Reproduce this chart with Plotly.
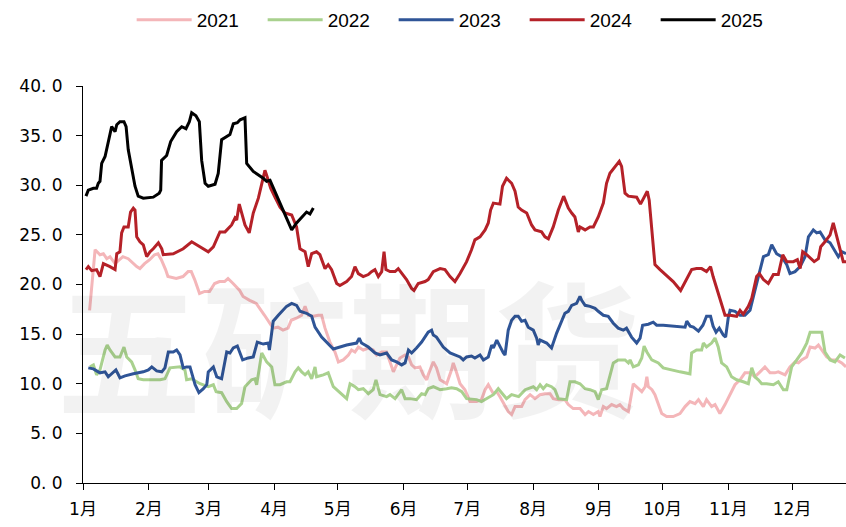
import plotly.graph_objects as go

# ---------------- data (x = day of year, 0 = 1 Jan) ----------------
month_ticks = [0, 31, 59, 90, 120, 151, 181, 212, 243, 273, 304, 334]
month_labels = ["1月", "2月", "3月", "4月", "5月", "6月", "7月", "8月", "9月", "10月", "11月", "12月"]
y_ticks = [0, 5, 10, 15, 20, 25, 30, 35, 40]
y_labels = ["0. 0", "5. 0", "10. 0", "15. 0", "20. 0", "25. 0", "30. 0", "35. 0", "40. 0"]

x2021 = [3.1, 5.7, 8.0, 9.6, 11.2, 12.7, 15.1, 17.4, 18.8, 21.3, 23.7, 25.3, 26.8, 29.0, 31.4, 33.7, 35.3, 36.9, 38.9, 40.0,
         43.9, 47.1, 49.5, 51.0, 52.6, 54.9, 57.3, 59.6, 62.0, 64.3, 66.7, 68.3, 70.7, 73.8, 75.4, 78.5, 81.6, 84.0, 85.5, 89.5,
         91.8, 94.2, 96.6, 98.1, 100.5, 103.0, 104.6, 106.1, 108.5, 110.8, 112.4, 114.0, 116.3, 118.7, 120.3, 122.6, 125.0, 126.5,
         128.1, 129.7, 132.0, 134.4, 136.7, 138.3, 140.7, 143.0, 144.6, 146.2, 147.7, 149.3, 151.7, 153.3, 154.8, 156.4, 158.7,
         160.3, 161.9, 162.6, 165.0, 166.5, 168.2, 169.7, 171.3, 173.6, 174.4, 176.0, 177.6, 179.9, 182.3, 185.4, 187.7, 189.4,
         190.9, 193.3, 194.9, 196.4, 198.0, 200.3, 201.9, 203.5, 205.0, 206.6, 208.2, 210.6, 212.9, 215.3, 217.6, 220.0, 221.5,
         223.9, 227.0, 228.6, 230.9, 234.1, 236.5, 238.1, 240.4, 242.7, 243.5, 245.1, 246.6, 249.0, 251.3, 252.9, 254.5, 256.9,
         259.2, 261.6, 263.2, 264.8, 265.6, 266.3, 268.0, 269.4, 271.0, 272.6, 274.9, 278.0, 281.2, 283.6, 285.9, 288.3, 289.9,
         292.2, 293.7, 296.1, 297.7, 300.0, 302.4, 304.8, 307.1, 309.5, 311.8, 314.2, 316.5, 318.9, 321.2, 323.6, 325.9, 327.5,
         330.7, 333.0, 335.4, 337.0, 338.5, 340.9, 342.5, 344.8, 346.4, 348.0, 350.3, 352.7, 355.0, 357.4, 359.4]
y2021 = [17.4, 23.5, 23.0, 23.1, 22.6, 22.8, 22.1, 22.5, 22.8, 22.6, 22.1, 21.8, 21.6, 22.1, 22.5, 23.0, 23.1, 22.5, 21.5, 20.8,
         20.6, 20.8, 21.3, 21.3, 20.5, 19.1, 19.3, 19.3, 20.1, 20.3, 20.3, 20.6, 20.1, 19.4, 18.8, 18.4, 18.1, 17.4, 16.9, 15.6,
         15.7, 15.4, 15.6, 16.4, 16.6, 16.9, 17.8, 16.9, 16.8, 16.9, 16.9, 15.6, 14.2, 13.2, 12.2, 12.4, 12.9, 13.4,
         13.2, 13.7, 13.4, 13.6, 13.4, 12.9, 13.2, 13.2, 12.2, 11.2, 11.9, 12.6, 12.9, 12.7, 11.9, 11.6, 11.7,
         10.9, 10.4, 10.9, 12.2, 11.6, 10.4, 10.2, 10.0, 11.4, 12.1, 11.1, 10.0, 9.4, 8.2, 8.2, 8.4, 9.4,
         9.9, 9.0, 9.2, 8.7, 8.1, 7.2, 6.9, 7.7, 7.7, 7.7, 8.4, 8.9, 8.5, 8.9, 9.0, 9.0, 8.5,
         8.4, 8.4, 7.9, 7.5, 7.5, 6.9, 7.2, 6.9, 7.2, 6.7, 7.7, 7.5, 7.9, 7.7, 7.9, 7.5, 7.2,
         10.0, 9.5, 9.2, 9.7, 10.7, 9.7, 9.4, 8.9, 7.9, 7.0, 6.7, 6.7, 7.0, 7.7, 8.2, 8.0, 8.4,
         7.7, 8.4, 7.7, 7.9, 7.0, 7.9, 9.0, 9.9, 10.4, 11.1, 11.1, 10.7, 11.2, 11.7, 11.1, 11.1, 11.2,
         10.9, 11.7, 12.2, 12.1, 12.4, 12.7, 13.7, 13.6, 13.9, 13.4, 12.7, 12.4, 12.4, 12.1, 11.7]

x2022 = [3.3, 4.9, 6.4, 8.0, 10.4, 11.4, 12.7, 15.1, 17.4, 19.3, 20.6, 22.9, 24.5, 26.0, 28.4, 36.3, 38.6, 41.0, 45.7, 48.0,
         48.8, 51.2, 55.1, 59.0, 61.4, 62.7, 65.3, 67.7, 70.0, 72.4, 74.7, 76.3, 79.4, 81.0, 81.8, 84.2, 86.5, 88.9, 90.4, 92.8,
         95.9, 97.5, 99.9, 101.4, 103.0, 104.6, 106.1, 107.7, 109.3, 110.0, 113.2, 115.5, 117.9, 121.8, 124.2, 125.8, 128.1,
         129.7, 132.0, 134.4, 136.7, 138.0, 139.9, 143.0, 144.6, 147.0, 148.5, 150.1, 151.7, 154.0, 157.1, 159.5, 161.1, 162.6,
         165.0, 168.2, 171.3, 173.6, 176.0, 178.4, 180.7, 185.4, 187.7, 190.1, 193.3, 195.6, 198.0, 199.5, 201.9, 205.2, 208.3,
         212.1, 213.7, 215.3, 216.8, 218.4, 220.7, 222.3, 223.9, 227.8, 229.4, 231.7, 234.1, 236.5, 238.8, 241.2, 242.7, 244.3,
         246.6, 248.2, 249.8, 252.1, 255.3, 256.9, 257.7, 259.2, 261.6, 263.2, 264.3, 265.6, 267.9, 271.0, 273.3, 281.2, 285.9,
         286.7, 289.0, 291.4, 292.2, 293.7, 296.1, 297.7, 299.2, 300.8, 303.2, 305.5, 307.9, 311.0, 313.4, 315.0, 316.5, 318.1,
         319.7, 322.0, 325.2, 327.5, 329.9, 331.5, 333.8, 336.2, 338.5, 340.9, 342.5, 345.6, 348.0, 349.5, 351.9, 354.2, 356.6, 358.9]
y2022 = [11.7, 11.9, 10.9, 11.4, 13.4, 13.9, 13.4, 12.7, 12.7, 13.7, 12.7, 12.2, 11.4, 10.5, 10.4, 10.4, 10.5, 11.6, 11.7, 11.4,
         10.4, 10.5, 10.0, 9.7, 9.9, 9.2, 9.1, 8.2, 7.5, 7.5, 8.0, 9.7, 10.4, 10.5, 9.9, 13.1, 12.2, 11.7, 9.9, 9.9,
         10.2, 10.2, 11.2, 11.6, 11.2, 10.9, 11.2, 10.5, 11.7, 10.7, 10.9, 11.1, 9.7, 9.0, 8.5, 10.0, 9.7,
         9.4, 9.5, 9.0, 9.4, 10.4, 8.9, 8.7, 8.9, 8.5, 9.0, 9.4, 8.5, 8.5, 8.4, 9.0, 8.9, 9.5,
         9.7, 9.4, 9.5, 9.6, 9.5, 9.2, 8.5, 8.4, 8.2, 8.5, 8.9, 9.5, 8.9, 8.5, 8.9, 8.7, 9.4,
         9.7, 9.4, 9.9, 9.5, 9.9, 9.7, 9.4, 8.5, 8.4, 10.2, 10.2, 10.0, 9.5, 9.4, 9.2, 8.4, 9.4,
         9.5, 10.9, 12.1, 12.4, 12.4, 12.1, 12.4, 11.7, 11.9, 12.6, 13.8, 13.2, 12.4, 12.1, 11.6, 11.2, 11.0,
         13.1, 13.4, 13.4, 14.1, 13.7, 14.1, 14.6, 13.7, 12.1, 11.7, 10.7, 10.4, 10.2, 10.0, 11.6, 10.7, 10.4,
         10.0, 10.0, 9.9, 10.2, 9.4, 9.4, 11.7, 12.4, 13.1, 14.1, 15.2, 15.2, 15.2, 13.2, 12.4, 12.2, 12.9, 12.6]

x2023 = [2.5, 4.9, 8.0, 10.4, 11.9, 14.3, 15.5, 17.4, 19.8, 23.7, 28.4, 30.8, 32.4, 34.7, 37.1, 38.6, 40.2, 42.5, 44.1, 45.7,
         47.2, 48.8, 50.4, 52.8, 54.6, 56.7, 58.3, 59.0, 61.4, 63.0, 65.3, 67.7, 69.2, 70.8, 72.7, 75.2, 77.8, 80.2, 82.1, 84.9,
         87.3, 87.8, 89.6, 92.0, 95.9, 98.3, 100.6, 102.2, 105.3, 107.7, 109.3, 112.4, 114.7, 117.9, 124.2, 128.9, 130.1, 131.2,
         134.4, 137.5, 139.9, 143.0, 145.4, 147.7, 150.1, 151.7, 153.3, 154.8, 157.1, 159.5, 162.6, 164.2, 165.0, 166.5, 169.7,
         172.9, 177.6, 179.1, 180.7, 183.0, 184.6, 187.0, 188.6, 190.9, 192.5, 193.3, 194.9, 196.4, 198.0, 198.8, 200.3, 201.9,
         203.5, 205.0, 206.6, 208.2, 209.7, 212.1, 213.7, 214.4, 215.3, 218.4, 220.7, 223.1, 225.4, 227.0, 228.6, 230.2, 232.5,
         234.1, 234.9, 236.5, 238.8, 241.2, 242.7, 245.1, 247.4, 249.8, 252.1, 254.5, 256.0, 258.4, 260.8, 262.4, 263.6, 266.3,
         268.6, 270.2, 273.3, 281.2, 283.6, 284.4, 286.0, 287.5, 289.9, 292.0, 293.7, 295.6, 296.8, 298.2, 299.7, 301.6, 302.7,
         303.9, 304.8, 307.1, 309.5, 311.8, 314.2, 316.5, 318.9, 320.5, 322.8, 324.4, 326.7, 329.1, 331.5, 333.0, 335.4, 337.8,
         340.1, 341.7, 344.0, 345.6, 347.2, 349.5, 351.9, 354.2, 355.8, 357.4, 359.4]
y2023 = [11.6, 11.5, 11.1, 11.2, 10.7, 11.2, 11.4, 10.6, 10.8, 11.0, 11.2, 11.4, 11.7, 11.3, 11.2, 11.6, 13.2, 13.2, 13.4, 12.9,
         11.6, 11.7, 11.7, 9.9, 9.1, 9.5, 9.9, 11.2, 11.7, 10.7, 10.5, 13.2, 13.1, 13.6, 13.8, 12.4, 12.6, 12.7, 14.2, 14.0,
         14.1, 13.4, 16.3, 16.9, 17.8, 18.1, 17.9, 17.3, 17.1, 16.8, 15.7, 14.7, 14.2, 13.5, 13.9, 14.1, 14.6, 14.1,
         13.7, 13.1, 12.9, 13.1, 12.4, 12.2, 11.9, 12.1, 13.4, 13.1, 13.6, 14.2, 15.2, 15.4, 14.9, 14.7, 13.7,
         13.1, 12.7, 12.4, 12.7, 12.8, 12.6, 12.9, 12.4, 12.7, 13.9, 13.6, 14.4, 13.7, 13.1, 12.9, 15.4, 16.4,
         16.8, 16.8, 16.3, 16.4, 15.7, 15.4, 14.6, 13.9, 14.4, 14.1, 13.6, 15.1, 16.4, 17.1, 17.3, 17.9, 18.1,
         18.8, 18.4, 17.9, 17.8, 17.6, 17.3, 16.9, 16.8, 16.1, 15.6, 15.4, 15.6, 14.7, 14.1, 14.6, 15.9, 16.0,
         16.2, 15.9, 15.9, 15.7, 15.7, 16.3, 15.8, 15.7, 15.3, 15.9, 16.8, 16.8, 15.8, 15.2, 15.6, 14.9, 14.7,
         16.6, 17.4, 17.3, 16.9, 16.9, 17.4, 19.4, 21.5, 22.8, 23.0, 24.0, 23.1, 22.8, 22.0, 21.1, 21.3, 21.8,
         22.8, 24.8, 25.5, 25.2, 25.3, 24.5, 24.2, 23.3, 22.8, 23.3, 23.1]

x2024 = [1.4, 2.5, 4.1, 6.4, 8.0, 9.6, 12.7, 15.1, 15.9, 17.4, 18.2, 19.3, 21.3, 22.4, 23.7, 24.5, 25.3, 26.8, 28.4, 30.0,
         31.6, 33.1, 35.5, 37.1, 37.8, 42.5, 47.2, 51.2, 53.5, 56.7, 59.0, 61.4, 64.5, 66.9, 70.0, 71.6, 72.4, 73.6, 74.7, 76.3,
         78.3, 80.2, 82.6, 84.2, 85.7, 86.5, 88.4, 90.4, 92.8, 95.1, 98.3, 100.6, 102.2, 104.6, 106.1, 107.7, 110.0, 111.6,
         114.0, 115.5, 117.1, 119.5, 121.0, 124.2, 126.5, 128.1, 129.7, 132.0, 134.4, 135.9, 137.5, 139.1, 140.7, 141.8, 142.7,
         144.6, 147.0, 148.5, 150.1, 152.4, 154.8, 155.9, 157.9, 161.1, 162.6, 165.0, 168.2, 170.5, 172.9, 175.2, 177.6, 180.7,
         183.0, 184.6, 187.0, 189.4, 190.9, 192.0, 193.3, 196.4, 197.6, 199.5, 201.9, 203.5, 205.0, 206.6, 209.0, 211.3, 212.9,
         216.0, 217.6, 219.2, 221.5, 223.9, 226.4, 228.6, 230.2, 231.7, 233.3, 234.1, 236.5, 238.8, 240.4, 242.7, 245.1, 246.6,
         248.2, 250.6, 252.6, 253.7, 255.3, 256.9, 260.8, 262.6, 263.9, 265.8, 266.7, 269.4, 271.8, 278.0, 281.5, 283.6, 286.7,
         289.0, 291.4, 293.7, 295.6, 296.8, 299.2, 301.6, 302.4, 304.8, 307.9, 309.5, 311.0, 313.4, 315.0, 317.3, 318.6, 320.5,
         322.8, 325.2, 327.5, 329.6, 331.5, 334.6, 336.5, 337.8, 339.0, 340.9, 342.8, 344.4, 346.4, 347.5, 349.5, 351.9, 353.4,
         355.0, 356.6, 358.1, 359.4]
y2024 = [21.5, 21.8, 21.4, 21.5, 20.8, 22.1, 21.8, 21.5, 23.1, 23.3, 25.2, 25.8, 25.8, 27.3, 27.7, 27.5, 24.8, 24.3, 24.0, 22.8,
         23.3, 23.6, 24.2, 23.6, 23.0, 23.1, 23.6, 24.3, 24.0, 23.6, 23.3, 23.8, 25.3, 25.3, 26.0, 26.7, 26.5, 28.1, 27.2, 26.0,
         25.2, 27.2, 28.7, 30.0, 31.5, 31.0, 29.7, 28.8, 27.8, 27.2, 27.0, 25.8, 23.6, 23.3, 21.8, 23.1, 23.3, 23.0,
         21.6, 22.0, 21.5, 20.1, 19.9, 20.3, 20.8, 21.8, 21.1, 20.8, 21.0, 21.3, 21.5, 20.8, 21.3, 23.3, 21.5,
         21.3, 21.3, 21.6, 21.1, 20.5, 19.6, 19.4, 20.1, 20.3, 20.5, 21.3, 21.6, 21.5, 20.8, 20.3, 21.1, 22.3,
         23.5, 24.5, 24.8, 25.5, 26.2, 27.5, 28.2, 28.1, 29.9, 30.7, 30.2, 29.4, 27.8, 27.5, 27.2, 26.0, 25.5,
         25.3, 24.8, 24.6, 25.8, 27.5, 28.9, 27.7, 27.2, 26.8, 25.3, 25.8, 25.5, 25.8, 25.8, 26.8, 28.2, 30.2,
         31.2, 31.9, 32.4, 31.9, 29.2, 28.9, 28.8, 28.1, 28.6, 29.4, 28.5, 22.0, 21.5, 20.3, 19.4, 20.3, 21.5,
         21.6, 21.6, 21.3, 21.8, 20.8, 19.1, 17.4, 16.9, 16.9, 16.8, 17.4, 17.0, 17.8, 18.6, 20.8, 21.1, 20.5,
         20.1, 21.0, 21.0, 23.0, 22.3, 22.3, 22.5, 21.6, 23.3, 23.0, 22.6, 22.3, 22.6, 23.8, 24.3, 25.0, 26.2,
         24.8, 23.5, 22.3, 22.3]

x2025 = [1.4, 2.5, 4.9, 6.4, 7.2, 8.0, 8.8, 10.4, 13.5, 15.1, 15.9, 17.4, 19.3, 20.3, 21.3, 22.9, 24.5, 26.0, 28.4, 33.1,
         35.9, 36.6, 37.0, 39.4, 41.3, 44.1, 46.5, 48.5, 50.1, 51.2, 53.2, 54.8, 55.9, 57.5, 59.0, 62.2, 63.7, 65.3, 67.7, 69.2,
         70.8, 72.7, 74.0, 76.3, 77.1, 80.2, 84.9, 86.5, 88.1, 90.4, 92.8, 95.1, 98.3, 100.6, 103.0, 105.3, 106.9, 108.5]
y2025 = [28.9, 29.5, 29.7, 29.7, 30.2, 30.4, 32.2, 32.9, 35.9, 35.4, 36.1, 36.4, 36.4, 35.9, 33.6, 31.9, 29.9, 28.9, 28.7, 28.8,
         29.2, 29.5, 32.5, 33.0, 34.4, 35.4, 35.9, 35.7, 36.4, 37.3, 37.0, 36.4, 32.5, 30.2, 29.9, 30.1, 31.2, 34.6, 34.9, 35.1,
         36.2, 36.3, 36.6, 36.8, 32.2, 31.4, 30.7, 30.4, 30.5, 29.4, 28.2, 27.2, 25.5, 26.2, 26.8, 27.3, 27.1, 27.7]

series_names = ["2021", "2022", "2023", "2024", "2025"]
series_x = [x2021, x2022, x2023, x2024, x2025]
series_y = [y2021, y2022, y2023, y2024, y2025]
series_colors = ["#f4b6b9", "#a9d18e", "#2f5597", "#b52128", "#000000"]

# ---------------- figure ----------------
W, H = 846, 527
ML, MT, MB, MR = 83, 86, 44, 0
plot_h = H - MT - MB

fig = go.Figure()
for name, xs, ys, col in zip(series_names, series_x, series_y, series_colors):
    fig.add_trace(go.Scatter(x=xs, y=ys, name=name, mode="lines",
                             line=dict(color=col, width=3),
                             hoverinfo="skip"))

# watermark
fig.add_annotation(text="<b>五矿期货</b>", xref="paper", yref="paper",
                   x=0.347, y=0.355,
                   xanchor="center", yanchor="middle", showarrow=False,
                   font=dict(family="Noto Sans CJK SC", size=146, color="rgba(0,0,0,0.05)"))

fig.update_layout(
    width=W, height=H,
    margin=dict(l=ML, r=MR, t=MT, b=MB, autoexpand=False),
    paper_bgcolor="white", plot_bgcolor="white",
    showlegend=True,
    legend=dict(orientation="h", x=0.493, xanchor="center",
                y=(plot_h + MT - 20) / plot_h, yanchor="middle",
                font=dict(family="Liberation Sans", size=19, color="#000000"),
                itemwidth=55, entrywidth=61, entrywidthmode="pixels",
                bgcolor="rgba(0,0,0,0)"),
    xaxis=dict(range=[0, 359.4], tickmode="array", tickvals=month_ticks, ticktext=month_labels,
               showgrid=False, zeroline=False, showline=True, linecolor="#000000", linewidth=1,
               ticks="outside", ticklen=6, tickcolor="#000000", tickwidth=1,
               tickfont=dict(family="DejaVu Sans, Noto Sans CJK SC", size=17, color="#000000"),
               ticklabelstandoff=5),
    yaxis=dict(range=[0, 40], tickmode="array", tickvals=y_ticks, ticktext=y_labels,
               showgrid=False, zeroline=False, showline=True, linecolor="#000000", linewidth=1,
               ticks="outside", ticklen=6, tickcolor="#000000", tickwidth=1,
               tickfont=dict(family="DejaVu Sans", size=17, color="#000000"),
               ticklabelstandoff=10),
)

# remove the page's default body margin so the figure sits at the window's top-left corner
fig.write_html("out.html",
               config={"displayModeBar": False, "staticPlot": True},
               post_script="document.body.style.margin='0';document.body.style.overflow='hidden';")
